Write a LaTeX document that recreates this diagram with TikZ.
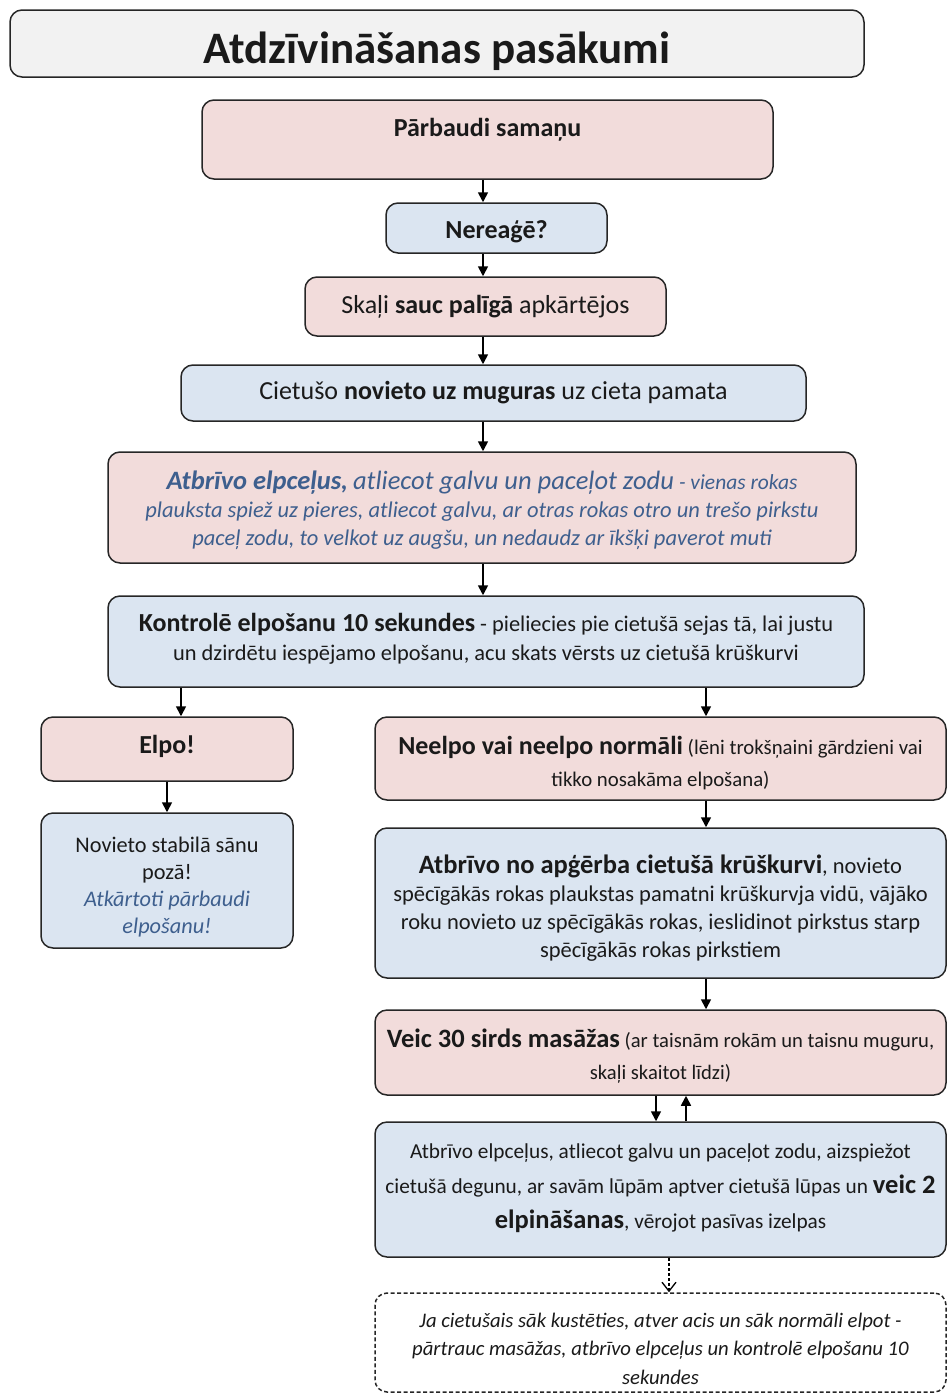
\documentclass[tikz,border=0pt]{standalone}
\usepackage{fontspec}
\setmainfont{Carlito}
\usetikzlibrary{arrows.meta}
\definecolor{pinkfill}{HTML}{F2DCDB}
\definecolor{bluefill}{HTML}{DBE5F1}
\definecolor{titlefill}{HTML}{F2F2F2}
\definecolor{noteblue}{HTML}{3E5F8E}
\definecolor{inkgray}{HTML}{1A1A1A}
\newcommand{\fs}[2]{\fontsize{#1}{#2}\selectfont}
\begin{document}
\begin{tikzpicture}[x=1pt,y=-1pt,
  box/.style={draw=black!85, line width=1.5pt, rounded corners=12pt, align=center, inner sep=0pt, text=inkgray},
  pinkbox/.style={box, fill=pinkfill},
  bluebox/.style={box, fill=bluefill},
  notebox/.style={box, fill=white, dashed, dash pattern=on 4pt off 2.5pt},
  caption/.style={align=center, inner sep=0pt, text=inkgray},
  arr/.style={line width=1.7pt, -{Triangle[length=10pt,width=10pt]}},
  dasharr/.style={line width=1.3pt, dash pattern=on 3pt off 2pt, -{Straight Barb[length=9pt,width=14pt,line width=1.3pt]}}
]
\useasboundingbox (0,0) rectangle (949,1395);

% title banner
\node[box, fill=titlefill, minimum width=854pt, text height=53pt, text depth=14pt, font={\fs{45}{54}\bfseries}] (title) at (437,43.5)
  {Atdzīvināšanas pasākumi};

% main column
\node[pinkbox, minimum width=571pt, text height=36pt, text depth=43pt, font={\fs{26}{30}\bfseries}] (check) at (487.5,139.5)
  {Pārbaudi samaņu};
\node[bluebox, minimum width=221pt, text height=35pt, text depth=15pt, font={\fs{26}{30}\bfseries}] (noresp) at (496.5,228)
  {Nereaģē?};
\node[pinkbox, minimum width=361pt, minimum height=59pt, font={\fs{26}{30}}] (call) at (485.5,306.5)
  {Skaļi \textbf{sauc palīgā} apkārtējos};
\node[bluebox, minimum width=625pt, minimum height=56pt, font={\fs{26}{30}}] (back) at (493.5,393)
  {Cietušo \textbf{novieto uz muguras} uz cieta pamata};

\node[pinkbox, minimum width=748pt, minimum height=111pt] (airway) at (482,507.5) {};
\node[caption, text=noteblue, font={\fs{22.5}{28}\itshape}] (airway-text) at ([yshift=-3pt]airway.center)
  {{\fs{26.5}{28}\bfseries Atbrīvo elpceļus,} {\fs{26.5}{28}atliecot galvu un paceļot zodu} {\fs{21.5}{28}- vienas rokas}\\
   plauksta spiež uz pieres, atliecot galvu, ar otras rokas otro un trešo pirkstu\\
   paceļ zodu, to velkot uz augšu, un nedaudz ar īkšķi paverot muti};

\node[bluebox, minimum width=756pt, minimum height=91pt] (control) at (486,641.5) {};
\node[caption, font={\fs{22.4}{29}}] (control-text) at ([yshift=3pt]control.center)
  {{\fs{26}{29}\bfseries Kontrolē elpošanu 10 sekundes} - pieliecies pie cietušā sejas tā, lai justu\\
   un dzirdētu iespējamo elpošanu, acu skats vērsts uz cietušā krūškurvi};

% left branch
\node[pinkbox, minimum width=252pt, text height=36pt, text depth=28pt, font={\fs{26}{30}\bfseries}] (breathes) at (167,749)
  {Elpo!};
\node[bluebox, minimum width=252pt, minimum height=135pt] (recovery) at (167,880.5) {};
\node[caption, font={\fs{22.3}{27}}] (recovery-text) at ([yshift=-7pt]recovery.center)
  {Novieto stabilā sānu\\ pozā!\\
   {\color{noteblue}\itshape Atkārtoti pārbaudi}\\
   {\color{noteblue}\itshape elpošanu!}};

% right branch
\node[pinkbox, minimum width=571pt, minimum height=83pt] (nobreath) at (660.5,758.5) {};
\node[caption, font={\fs{20.8}{32}}] (nobreath-text) at ([yshift=-5pt]nobreath.center)
  {{\fs{26}{32}\bfseries Neelpo vai neelpo normāli} (lēni trokšņaini gārdzieni vai\\
   tikko nosakāma elpošana)};

\node[bluebox, minimum width=571pt, minimum height=150pt] (hands) at (660.5,903) {};
\node[caption, font={\fs{22.5}{28}}] (hands-text) at ([yshift=-5pt]hands.center)
  {{\fs{26.5}{28}\bfseries Atbrīvo no apģērba cietušā krūškurvi}, novieto\\
   spēcīgākās rokas plaukstas pamatni krūškurvja vidū, vājāko\\
   roku novieto uz spēcīgākās rokas, ieslidinot pirkstus starp\\
   spēcīgākās rokas pirkstiem};

\node[pinkbox, minimum width=571pt, minimum height=85pt] (compress) at (660.5,1052.5) {};
\node[caption, font={\fs{20.6}{32}}] (compress-text) at ([yshift=-4pt]compress.center)
  {{\fs{26.5}{32}\bfseries Veic 30 sirds masāžas} (ar taisnām rokām un taisnu muguru,\\
   skaļi skaitot līdzi)};

\node[bluebox, minimum width=571pt, minimum height=135pt] (rescue) at (660.5,1189.5) {};
\node[caption, font={\fs{21.3}{35}}] (rescue-text) at ([yshift=1pt]rescue.center)
  {Atbrīvo elpceļus, atliecot galvu un paceļot zodu, aizspiežot\\
   cietušā degunu, ar savām lūpām aptver cietušā lūpas un {\fs{26.5}{35}\bfseries veic 2}\\
   {\fs{26.5}{35}\bfseries elpināšanas}, vērojot pasīvas izelpas};

\node[notebox, minimum width=571pt, minimum height=99pt] (resume) at (660.5,1342.5) {};
\node[caption, font={\fs{20.7}{28.5}\itshape}] (resume-text) at ([yshift=-6pt]resume.center)
  {Ja cietušais sāk kustēties, atver acis un sāk normāli elpot -\\
   pārtrauc masāžas, atbrīvo elpceļus un kontrolē elpošanu 10\\
   sekundes};

% connector columns
\coordinate (xmain) at (483,0);
\coordinate (xleft) at (181,0);
\coordinate (xright) at (706,0);
\coordinate (xdown) at (656,0);
\coordinate (xup) at (686,0);
\coordinate (xdash) at (669,0);

\draw[arr] (xmain |- check.south) -- (xmain |- noresp.north);
\draw[arr] (xmain |- noresp.south) -- (xmain |- call.north);
\draw[arr] (xmain |- call.south) -- (xmain |- back.north);
\draw[arr] (xmain |- back.south) -- (xmain |- airway.north);
\draw[arr] (xmain |- airway.south) -- (xmain |- control.north);
\draw[arr] (xleft |- control.south) -- (xleft |- breathes.north);
\draw[arr] (xright |- control.south) -- (xright |- nobreath.north);
\draw[arr] (breathes.south) -- (recovery.north);
\draw[arr] (xright |- nobreath.south) -- (xright |- hands.north);
\draw[arr] (xright |- hands.south) -- (xright |- compress.north);
\draw[arr] (xdown |- compress.south) -- (xdown |- rescue.north);
\draw[arr] (xup |- rescue.north) -- (xup |- compress.south);
\draw[dasharr] (xdash |- rescue.south) -- (xdash |- resume.north);
\end{tikzpicture}
\end{document}
